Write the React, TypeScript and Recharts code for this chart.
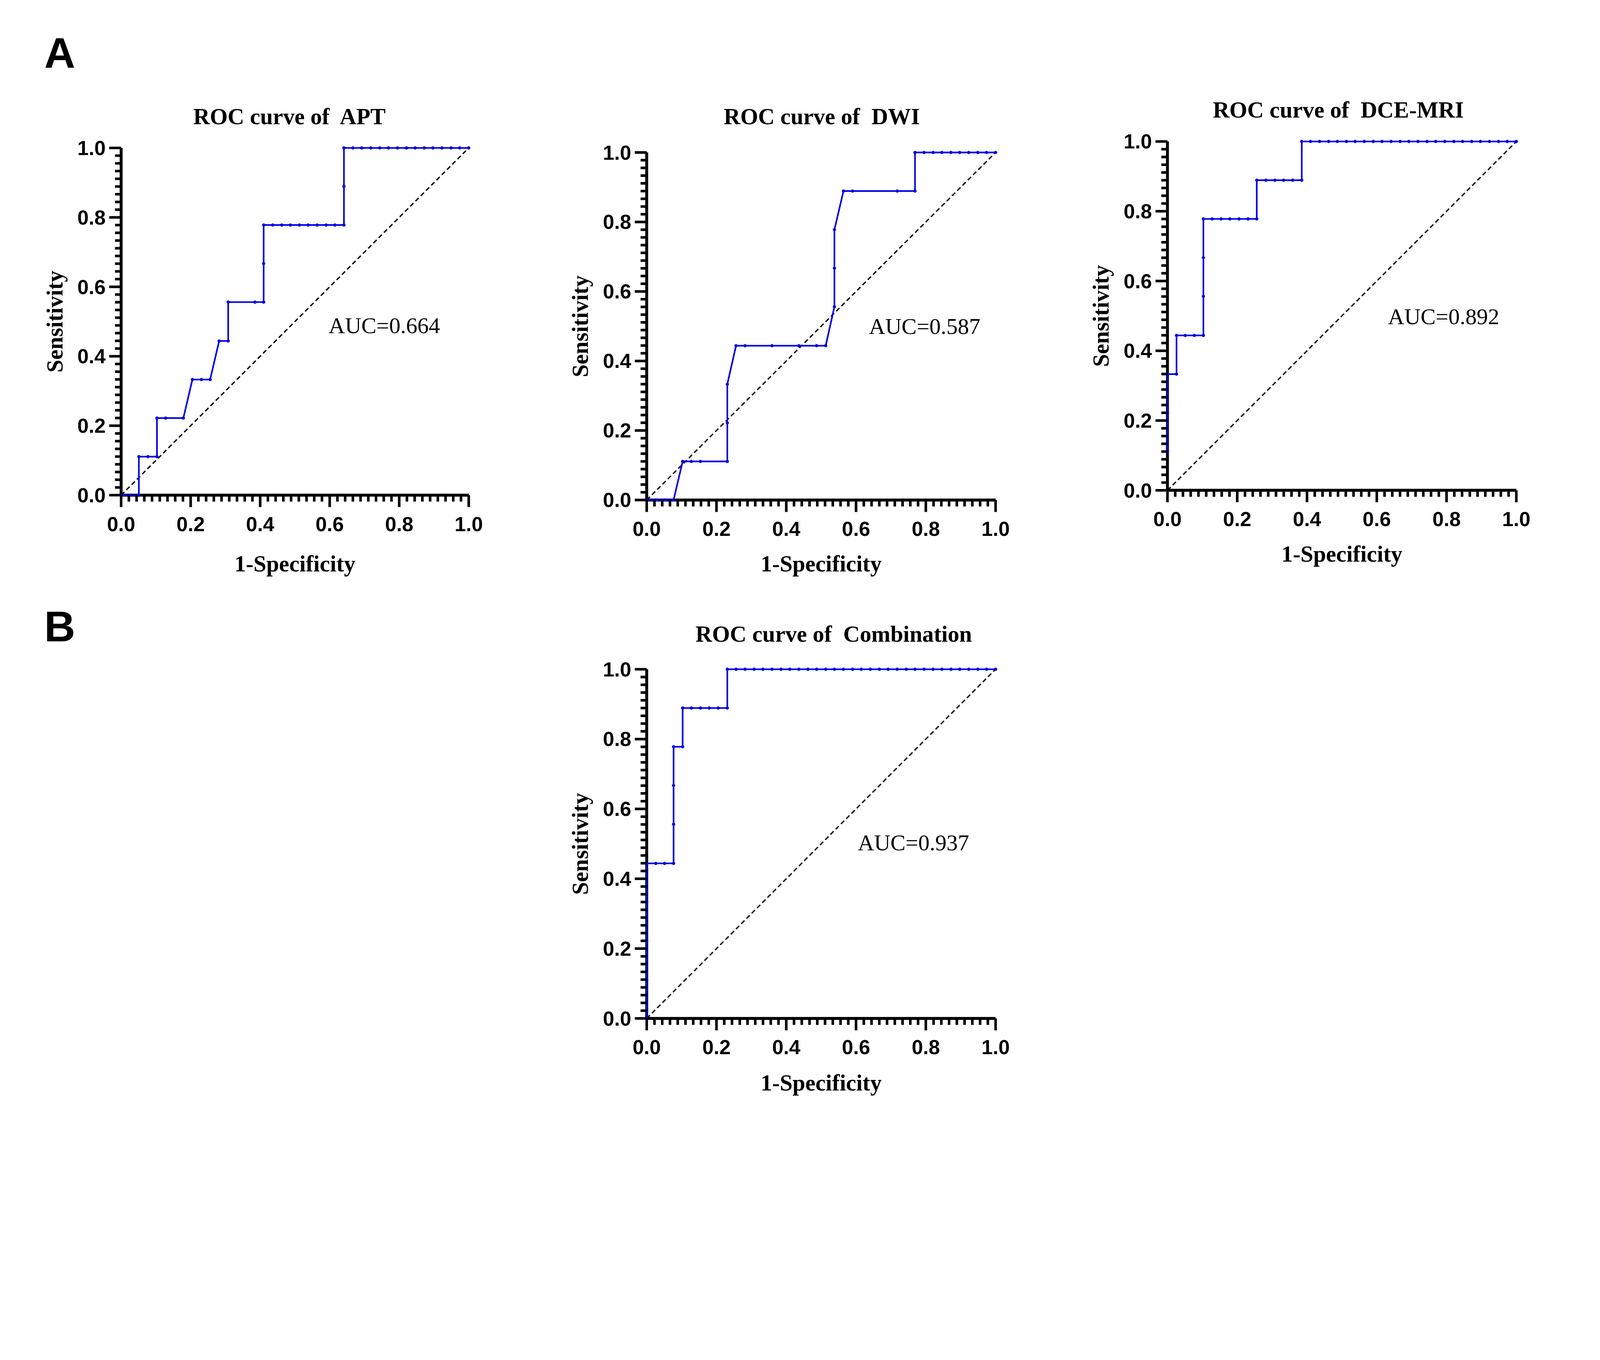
import React from 'react';
import { LineChart, Line, XAxis, YAxis, ReferenceLine, ReferenceDot } from 'recharts';

// ROC points: 1-specificity (fpr) and sensitivity (tpr)
const aptFpr = [0, 0.026, 0.051, 0.051, 0.077, 0.103, 0.103, 0.128, 0.179, 0.205, 0.231, 0.256, 0.282, 0.308, 0.308, 0.385, 0.410, 0.410, 0.410, 0.436, 0.462, 0.487, 0.513, 0.538, 0.564, 0.590, 0.615, 0.641, 0.641, 0.641, 0.667, 0.692, 0.718, 0.744, 0.769, 0.795, 0.821, 0.846, 0.872, 0.897, 0.923, 0.949, 0.974, 1.0];
const aptTpr = [0, 0, 0, 0.111, 0.111, 0.111, 0.222, 0.222, 0.222, 0.333, 0.333, 0.333, 0.444, 0.444, 0.556, 0.556, 0.556, 0.667, 0.778, 0.778, 0.778, 0.778, 0.778, 0.778, 0.778, 0.778, 0.778, 0.778, 0.889, 1, 1, 1, 1, 1, 1, 1, 1, 1, 1, 1, 1, 1, 1, 1];

const dwiFpr = [0, 0.026, 0.051, 0.077, 0.103, 0.128, 0.154, 0.231, 0.231, 0.231, 0.256, 0.282, 0.359, 0.436, 0.487, 0.513, 0.538, 0.538, 0.538, 0.564, 0.590, 0.718, 0.769, 0.769, 0.795, 0.821, 0.846, 0.872, 0.897, 0.923, 0.949, 0.974, 1.0];
const dwiTpr = [0, 0, 0, 0, 0.111, 0.111, 0.111, 0.111, 0.222, 0.333, 0.444, 0.444, 0.444, 0.444, 0.444, 0.444, 0.556, 0.667, 0.778, 0.889, 0.889, 0.889, 0.889, 1, 1, 1, 1, 1, 1, 1, 1, 1, 1];

const dceFpr = [0, 0, 0, 0.026, 0.026, 0.051, 0.077, 0.103, 0.103, 0.103, 0.103, 0.128, 0.154, 0.179, 0.205, 0.231, 0.256, 0.256, 0.282, 0.308, 0.333, 0.359, 0.385, 0.385, 0.410, 0.436, 0.462, 0.487, 0.513, 0.538, 0.564, 0.590, 0.615, 0.641, 0.667, 0.692, 0.718, 0.744, 0.769, 0.795, 0.821, 0.846, 0.872, 0.897, 0.923, 0.949, 0.974, 1.0];
const dceTpr = [0.111, 0.222, 0.333, 0.333, 0.444, 0.444, 0.444, 0.444, 0.556, 0.667, 0.778, 0.778, 0.778, 0.778, 0.778, 0.778, 0.778, 0.889, 0.889, 0.889, 0.889, 0.889, 0.889, 1, 1, 1, 1, 1, 1, 1, 1, 1, 1, 1, 1, 1, 1, 1, 1, 1, 1, 1, 1, 1, 1, 1, 1, 1];

const combFpr = [0, 0, 0, 0, 0, 0.026, 0.051, 0.077, 0.077, 0.077, 0.077, 0.103, 0.103, 0.128, 0.154, 0.179, 0.205, 0.231, 0.231, 0.256, 0.282, 0.308, 0.333, 0.359, 0.385, 0.410, 0.436, 0.462, 0.487, 0.513, 0.538, 0.564, 0.590, 0.615, 0.641, 0.667, 0.692, 0.718, 0.744, 0.769, 0.795, 0.821, 0.846, 0.872, 0.897, 0.923, 0.949, 0.974, 1.0];
const combTpr = [0, 0.111, 0.222, 0.333, 0.444, 0.444, 0.444, 0.444, 0.556, 0.667, 0.778, 0.778, 0.889, 0.889, 0.889, 0.889, 0.889, 0.889, 1, 1, 1, 1, 1, 1, 1, 1, 1, 1, 1, 1, 1, 1, 1, 1, 1, 1, 1, 1, 1, 1, 1, 1, 1, 1, 1, 1, 1, 1, 1];

const titles = ['ROC curve of  APT', 'ROC curve of  DWI', 'ROC curve of  DCE-MRI', 'ROC curve of  Combination'];
const aucLabels = ['AUC=0.664', 'AUC=0.587', 'AUC=0.892', 'AUC=0.937'];
const majorTicks = [0, 0.2, 0.4, 0.6, 0.8, 1.0];
const xAxisTitle = '1-Specificity';
const yAxisTitle = 'Sensitivity';

const MINOR_PER_MAJOR = 8;
const axisTicks = majorTicks.flatMap((t, i) =>
  i === majorTicks.length - 1
    ? [t]
    : [t, ...Array.from({ length: MINOR_PER_MAJOR }, (_, k) => t + (0.2 * (k + 1)) / (MINOR_PER_MAJOR + 1))]
);
const isMajor = (v: number) => majorTicks.some((m) => Math.abs(m - v) < 1e-9);

const PAGE_W = 4953;
const PAGE_H = 3482;
const BLUE = '#0000e6';
const SERIF = '"Liberation Serif", "Times New Roman", serif';
const SANS = '"Liberation Sans", Arial, sans-serif';

const AXIS_W = 260;
const TOP = 40;
const RIGHT = 70;
const X_AXIS_H = 280;

// plot rectangles in page pixels and text placement
const panels = [
  { fpr: aptFpr, tpr: aptTpr, plot: { x: 375, y: 458, w: 1076, h: 1075 }, titleX: 896, titleY: 384, xLabY: 1769, aucAt: [0.597, 0.466] },
  { fpr: dwiFpr, tpr: dwiTpr, plot: { x: 2002, y: 472, w: 1080, h: 1076 }, titleX: 2544, titleY: 384, xLabY: 1769, aucAt: [0.637, 0.478] },
  { fpr: dceFpr, tpr: dceTpr, plot: { x: 3614, y: 438, w: 1080, h: 1080 }, titleX: 4143, titleY: 364, xLabY: 1739, aucAt: [0.632, 0.476] },
  { fpr: combFpr, tpr: combTpr, plot: { x: 2002, y: 2072, w: 1080, h: 1081 }, titleX: 2581, titleY: 1987, xLabY: 3376, aucAt: [0.605, 0.482] },
];

const XTick = (props: any) => {
  const { x, y, payload } = props;
  const major = isMajor(payload.value);
  return (
    <g>
      <line x1={x} x2={x} y1={y} y2={y + (major ? 37 : 20)} stroke="#000" strokeWidth={8} />
      {major && (
        <text x={x} y={y + 111} textAnchor="middle" fontFamily={SANS} fontWeight="bold" fontSize={63} fill="#000">
          {payload.value.toFixed(1)}
        </text>
      )}
    </g>
  );
};

const YTick = (props: any) => {
  const { x, y, payload } = props;
  const major = isMajor(payload.value);
  return (
    <g>
      <line x1={x} x2={x - (major ? 37 : 19)} y1={y} y2={y} stroke="#000" strokeWidth={8} />
      {major && (
        <text x={x - 48} y={y + 22} textAnchor="end" fontFamily={SANS} fontWeight="bold" fontSize={63} fill="#000">
          {payload.value.toFixed(1)}
        </text>
      )}
    </g>
  );
};

const RocPanel = ({ idx }: { idx: number }) => {
  const p = panels[idx];
  const data = p.fpr.map((x, i) => ({ fpr: x, tpr: p.tpr[i] }));
  const auc = aucLabels[idx];
  return (
    <div style={{ position: 'absolute', left: p.plot.x - AXIS_W, top: p.plot.y - TOP }}>
      <LineChart
        width={AXIS_W + p.plot.w + RIGHT}
        height={TOP + p.plot.h + X_AXIS_H}
        data={data}
        margin={{ top: TOP, right: RIGHT, bottom: 0, left: 0 }}
      >
        <XAxis
          dataKey="fpr"
          type="number"
          domain={[0, 1]}
          ticks={axisTicks}
          interval={0}
          height={X_AXIS_H}
          tickLine={false}
          tickSize={0}
          tickMargin={0}
          axisLine={{ stroke: '#000', strokeWidth: 9 }}
          tick={XTick}
        />
        <YAxis
          type="number"
          domain={[0, 1]}
          ticks={axisTicks}
          interval={0}
          width={AXIS_W}
          tickLine={false}
          tickSize={0}
          tickMargin={0}
          axisLine={{ stroke: '#000', strokeWidth: 9 }}
          tick={YTick}
        />
        <ReferenceLine
          segment={[{ x: 0, y: 0 }, { x: 1, y: 1 }]}
          stroke="#000"
          strokeWidth={4.2}
          strokeDasharray="14 9"
        />
        <ReferenceDot
          x={p.aucAt[0]}
          y={p.aucAt[1]}
          r={0}
          shape={(s: any) => (
            <text x={s.cx} y={s.cy} fontFamily={SERIF} fontSize={70} fill="#000">
              {auc}
            </text>
          )}
        />
        <Line
          dataKey="tpr"
          type="linear"
          stroke={BLUE}
          strokeWidth={5}
          dot={{ r: 5, fill: BLUE, stroke: BLUE, strokeWidth: 0 }}
          activeDot={false}
          isAnimationActive={false}
          {...({ zIndex: 650 } as any)}
        />
      </LineChart>
    </div>
  );
};

const App = () => {
  // fit the 4953-wide figure into whatever CSS width the window really has
  const vw = typeof window !== 'undefined' ? window.innerWidth : PAGE_W;
  const s = Math.min(1, vw / PAGE_W);
  return (
    <div style={{ position: 'absolute', left: 0, top: 0, width: PAGE_W * s, height: PAGE_H * s, overflow: 'hidden', background: '#fff' }}>
      <div style={{ position: 'absolute', left: 0, top: 0, width: PAGE_W, height: PAGE_H, transform: `scale(${s})`, transformOrigin: '0 0' }}>
        {panels.map((_, i) => (
          <RocPanel key={i} idx={i} />
        ))}
        <svg width={PAGE_W} height={PAGE_H} style={{ position: 'absolute', left: 0, top: 0, pointerEvents: 'none' }}>
          <text x={137} y={209} fontFamily={SANS} fontWeight="bold" fontSize={133}>A</text>
          <text x={137} y={1985} fontFamily={SANS} fontWeight="bold" fontSize={133}>B</text>
          {panels.map((p, i) => (
            <g key={i} fontFamily={SERIF} fontWeight="bold" fontSize={71} fill="#000">
              <text x={p.titleX} y={p.titleY} textAnchor="middle" style={{ whiteSpace: 'pre' }}>
                {titles[i]}
              </text>
              <text x={p.plot.x + p.plot.w / 2} y={p.xLabY} textAnchor="middle">
                {xAxisTitle}
              </text>
              <text
                transform={`translate(${p.plot.x - 182}, ${p.plot.y + p.plot.h / 2}) rotate(-90)`}
                textAnchor="middle"
              >
                {yAxisTitle}
              </text>
            </g>
          ))}
        </svg>
      </div>
    </div>
  );
};

export default App;
